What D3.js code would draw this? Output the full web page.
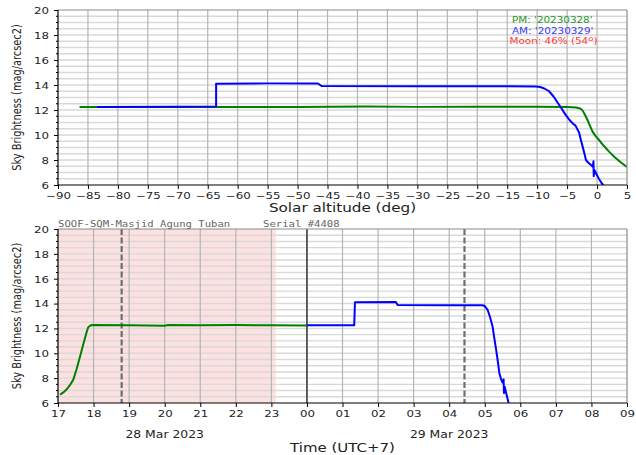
<!DOCTYPE html>
<html>
<head>
<meta charset="utf-8">
<script src="https://cdn.jsdelivr.net/npm/d3@7"></script>
<style>
  body { margin: 0; background: #fff; }
  svg text { font-family: "DejaVu Sans", sans-serif; fill: #222; }
  .mono { font-family: "DejaVu Sans Mono", monospace; fill: #666; }
</style>
</head>
<body>
<div id="chart"></div>
<script>
// ---- data ----
// top panel: solar altitude (deg) vs sky brightness
var altPM = [-86.4, -75, -60, -50, -38.5, -30, -20, -10, -5, -3.5, -2.8, -2.4, -2.0, -1.6, -1.2, -0.75, -0.3, 0.1, 1.0, 2.0, 3.0, 4.0, 5.0];
var sqmPM = [12.25, 12.24, 12.24, 12.25, 12.28, 12.25, 12.26, 12.26, 12.24, 12.2, 12.12, 11.95, 11.6, 11.2, 10.75, 10.27, 9.95, 9.73, 9.2, 8.67, 8.2, 7.8, 7.45];

var altAM = [-83.5, -70, -63.6, -63.6, -55, -46.6, -46.0, -30, -15, -10.2, -9.5, -8.8, -8.0, -7.3, -6.6, -5.9, -5.3, -4.6, -4.0, -3.6, -3.0, -2.7, -2.4, -2.1, -1.85, -1.5, -1.0, -0.7, -0.6, -0.55, -0.45, 0.3, 0.8, 1.05];
var sqmAM = [12.25, 12.26, 12.27, 14.1, 14.13, 14.12, 13.92, 13.9, 13.9, 13.88, 13.84, 13.72, 13.5, 13.1, 12.6, 12.1, 11.65, 11.2, 10.9, 10.75, 10.2, 9.6, 9.07, 8.5, 8.0, 7.8, 7.6, 7.45, 7.9, 6.7, 7.2, 6.5, 6.13, 6.0];

// bottom panel: local time (hours, 24+ = next day) vs sky brightness
var hourPM = [17.06, 17.15, 17.24, 17.34, 17.43, 17.52, 17.62, 17.7, 17.76, 17.81, 17.85, 17.92, 17.99, 19, 20, 20.1, 21, 22, 23, 24];
var sqmPMt = [6.68, 6.85, 7.08, 7.45, 7.88, 8.7, 9.75, 10.6, 11.23, 11.75, 12.1, 12.25, 12.28, 12.25, 12.22, 12.27, 12.25, 12.27, 12.25, 12.24];

var hourAM = [24.0, 25.33, 25.35, 26.5, 26.55, 28.0, 28.93, 29.0, 29.08, 29.15, 29.22, 29.27, 29.32, 29.37, 29.41, 29.46, 29.5, 29.53, 29.54, 29.56, 29.67];
var sqmAMt = [12.25, 12.25, 14.1, 14.12, 13.88, 13.87, 13.87, 13.8, 13.5, 12.9, 12.16, 11.2, 10.3, 9.3, 8.42, 7.9, 7.65, 7.9, 6.8, 7.3, 6.0];

var twilightPM = 18.79, twilightAM = 28.43, midnight = 24;
var shadeFrom = 17, shadeTo = 23.12;

var altTicks = d3.range(-90, 6, 5);
var hourTicks = d3.range(17, 34, 1);
var sqmTicks = [6, 8, 10, 12, 14, 16, 18, 20];

var legendRows = ["PM: '20230328'", "AM: '20230329'"];
var moonText = ["Moon: 46% (54", "o", ")"];
var siteName = "SOOF-SQM-Masjid Agung Tuban";
var serialText = "Serial #4408";
var dateLabels = [[20, "28 Mar 2023"], [28, "29 Mar 2023"]];

// ---- layout ----
var SY = 0.78; // the picture is squeezed vertically
var left = 58, right = 627;
var topPanel = {y0: 10, y1: 185};
var botPanel = {y0: 229, y1: 403};

var svg = d3.select("#chart").append("svg")
    .attr("width", 636)
    .attr("height", 455);

function label(x, y, str, size, anchor, cls, fill) {
    var g = svg.append("g").attr("transform", "translate(" + x + "," + y + ") scale(1," + SY + ")");
    var t = g.append("text")
        .attr("font-size", size)
        .attr("text-anchor", anchor || "start")
        .text(str);
    if (cls) t.attr("class", cls);
    if (fill) t.style("fill", fill);
    return t;
}

var xAlt = d3.scaleLinear().domain([-90, 5]).range([left, right]);
var xHour = d3.scaleLinear().domain([17, 33]).range([left, right]);
var yTop = d3.scaleLinear().domain([6, 20]).range([topPanel.y1, topPanel.y0]);
var yBot = d3.scaleLinear().domain([6, 20]).range([botPanel.y1, botPanel.y0]);

function panel(x, y, p, xTicks, xFmt, id) {
    var g = svg.append("g");

    svg.append("clipPath").attr("id", id)
        .append("rect")
        .attr("x", left).attr("y", p.y0)
        .attr("width", right - left).attr("height", p.y1 - p.y0);

    // horizontal minor grid every 0.5
    g.selectAll(".hg").data(d3.range(6.5, 20, 0.5)).enter().append("line")
        .attr("x1", left).attr("x2", right)
        .attr("y1", function (d) { return y(d); })
        .attr("y2", function (d) { return y(d); })
        .attr("stroke", "#d9d9d9")
        .attr("stroke-width", 1.4);

    // vertical major grid
    g.selectAll(".vg").data(xTicks.slice(1, -1)).enter().append("line")
        .attr("x1", function (d) { return x(d); })
        .attr("x2", function (d) { return x(d); })
        .attr("y1", p.y0).attr("y2", p.y1)
        .attr("stroke", "#b4b4b4")
        .attr("stroke-width", 1.2);

    // y axis
    var yAxis = d3.axisLeft(y).tickValues(sqmTicks).tickSize(4).tickFormat(d3.format("d"));
    var ya = svg.append("g").attr("transform", "translate(" + left + ",0)").call(yAxis);
    ya.select(".domain").remove();
    ya.selectAll("line").attr("stroke", "#000");
    ya.selectAll("text")
        .attr("x", null).attr("dy", "0.36em")
        .attr("font-size", 11.8)
        .attr("font-family", "DejaVu Sans")
        .attr("fill", "#222")
        .attr("transform", "translate(-9,0) scale(1," + SY + ")");
    // y minor ticks
    svg.append("g").selectAll("line").data(d3.range(6.5, 20, 0.5).filter(function (d) { return d % 2 !== 0; }))
        .enter().append("line")
        .attr("x1", left - 2).attr("x2", left)
        .attr("y1", function (d) { return y(d); })
        .attr("y2", function (d) { return y(d); })
        .attr("stroke", "#000");

    // x axis
    var xAxis = d3.axisBottom(x).tickValues(xTicks).tickSize(4).tickFormat(xFmt);
    var xa = svg.append("g").attr("transform", "translate(0," + p.y1 + ")").call(xAxis);
    xa.select(".domain").remove();
    xa.selectAll("line").attr("stroke", "#000");
    xa.selectAll("text")
        .attr("y", 0).attr("dy", null)
        .attr("font-size", 11.8)
        .attr("font-family", "DejaVu Sans")
        .attr("fill", "#222")
        .attr("transform", "translate(0,13.5) scale(1," + SY + ")");

    return g;
}

function drawFrame(p) {
    var f = svg.append("g");
    f.append("line").attr("x1", left).attr("x2", right).attr("y1", p.y0).attr("y2", p.y0)
        .attr("stroke", "#8a8a8a").attr("stroke-width", 1.2);
    f.append("line").attr("x1", right).attr("x2", right).attr("y1", p.y0).attr("y2", p.y1)
        .attr("stroke", "#8a8a8a").attr("stroke-width", 1.2);
    f.append("line").attr("x1", left).attr("x2", left).attr("y1", p.y0).attr("y2", p.y1)
        .attr("stroke", "#000").attr("stroke-width", 1.2);
    f.append("line").attr("x1", left).attr("x2", right).attr("y1", p.y1).attr("y2", p.y1)
        .attr("stroke", "#000").attr("stroke-width", 1.2);
}

function series(xs, ys, x, y, color, clip) {
    var pts = xs.map(function (d, i) { return [d, ys[i]]; });
    var line = d3.line()
        .x(function (d) { return x(d[0]); })
        .y(function (d) { return y(d[1]); });
    svg.append("path")
        .datum(pts)
        .attr("clip-path", "url(#" + clip + ")")
        .attr("d", line)
        .attr("fill", "none")
        .attr("stroke", color)
        .attr("stroke-width", 2)
        .attr("stroke-linejoin", "round");
}

// ---- top panel ----
panel(xAlt, yTop, topPanel, altTicks, d3.format("d"), "clipTop");
series(altPM, sqmPM, xAlt, yTop, "#008000", "clipTop");
series(altAM, sqmAM, xAlt, yTop, "#0000ff", "clipTop");
drawFrame(topPanel);

label(512, 22.5, legendRows[0], 10.4, "start", null, "#2a962a");
label(512, 33.5, legendRows[1], 10.4, "start", null, "#3a3aff");
var moon = label(509.5, 44, moonText[0], 10.4, "start", null, "#ff4040");
moon.append("tspan").attr("font-size", 8.5).attr("dy", -4).text(moonText[1]);
moon.append("tspan").attr("dy", 4).text(moonText[2]);

label((left + right) / 2, 212, "Solar altitude (deg)", 15.2, "middle");

// ---- bottom panel ----
svg.append("rect")
    .attr("x", xHour(shadeFrom))
    .attr("y", botPanel.y0)
    .attr("width", xHour(shadeTo) - xHour(shadeFrom))
    .attr("height", botPanel.y1 - botPanel.y0)
    .attr("fill", "#fde0e0");

panel(xHour, yBot, botPanel, hourTicks, function (d) { return d3.format("02d")(d % 24); }, "clipBot");

svg.append("line")
    .attr("x1", xHour(midnight)).attr("x2", xHour(midnight))
    .attr("y1", botPanel.y0).attr("y2", botPanel.y1)
    .attr("stroke", "#444").attr("stroke-width", 1.6);

[twilightPM, twilightAM].forEach(function (h) {
    svg.append("line")
        .attr("x1", xHour(h)).attr("x2", xHour(h))
        .attr("y1", botPanel.y0).attr("y2", botPanel.y1)
        .attr("stroke", "#6e6e6e").attr("stroke-width", 2.2)
        .attr("stroke-dasharray", "6,2.5");
});

series(hourPM, sqmPMt, xHour, yBot, "#008000", "clipBot");
series(hourAM, sqmAMt, xHour, yBot, "#0000ff", "clipBot");
drawFrame(botPanel);

label(58, 227, siteName, 10.6, "start", "mono");
label(263, 227, serialText, 10.6, "start", "mono");

dateLabels.forEach(function (d) {
    label(xHour(d[0]), 438, d[1], 12.4, "middle");
});
label((left + right) / 2, 451.5, "Time (UTC+7)", 15, "middle");

// ---- y labels ----
[topPanel, botPanel].forEach(function (p) {
    svg.append("g")
        .attr("transform", "translate(21," + ((p.y0 + p.y1) / 2) + ") scale(1," + SY + ") rotate(-90)")
        .append("text")
        .attr("font-size", 12.6)
        .attr("text-anchor", "middle")
        .text("Sky Brightness (mag/arcsec2)");
});
</script>
</body>
</html>
